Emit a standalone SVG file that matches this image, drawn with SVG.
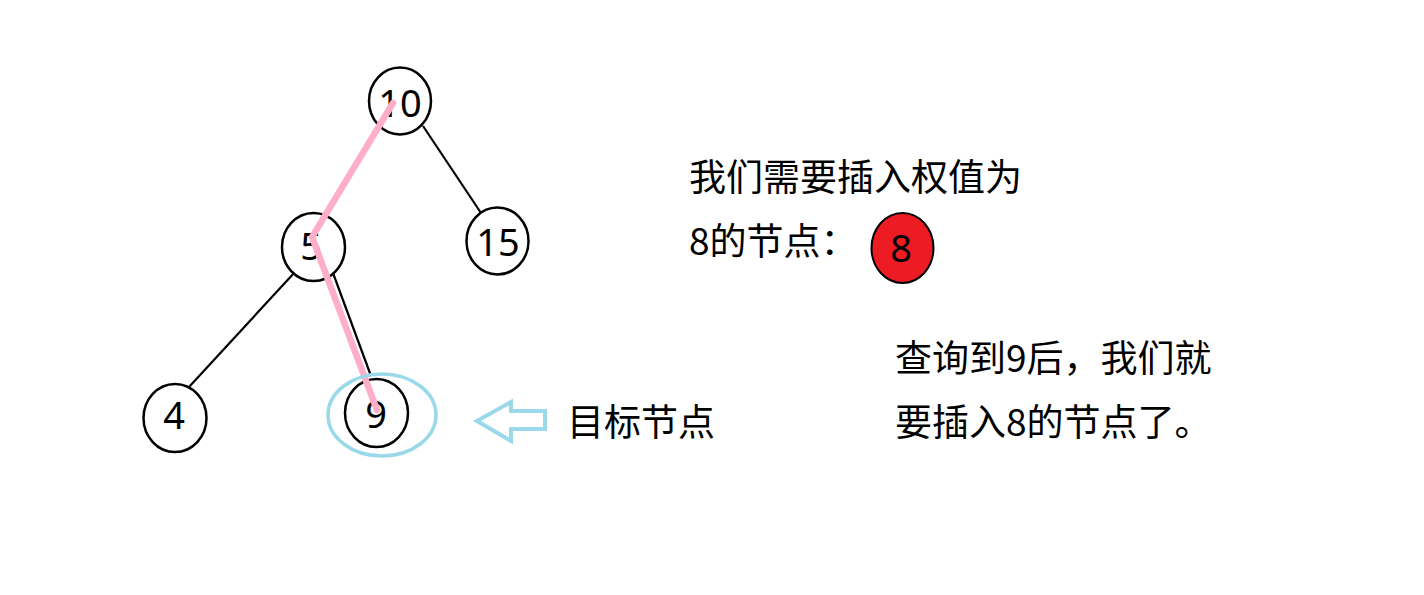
<svg xmlns="http://www.w3.org/2000/svg" width="1424" height="595" viewBox="0 0 1424 595">
<style>
.node{fill:#fff;stroke:#000;stroke-width:2.5}
.edge{stroke:#000;stroke-width:2.2;fill:none}
.num{font-family:"Noto Sans","Noto Sans CJK SC",sans-serif;font-size:38px;fill:#000;text-anchor:middle}
.txt{font-family:"Noto Sans CJK SC","Noto Sans",sans-serif;font-size:37px;fill:#000}
</style>
<rect width="1424" height="595" fill="#fff"/>
<g id="connectors">
<line class="edge" x1="423" y1="126" x2="481" y2="213"/>
<line class="edge" x1="295" y1="272" x2="189" y2="387"/>
<line class="edge" x1="333" y1="273" x2="371" y2="376"/>
</g>
<g id="node-10"><ellipse class="node" cx="400" cy="101" rx="31" ry="33.5"/><text class="num" x="400" y="117">10</text></g>
<g id="node-5"><ellipse class="node" cx="313.5" cy="247" rx="31.5" ry="34"/><text class="num" x="311" y="260">5</text></g>
<g id="node-15"><ellipse class="node" cx="497.5" cy="241" rx="31" ry="33.5"/><text class="num" x="498" y="256">15</text></g>
<g id="node-4"><ellipse class="node" cx="175" cy="418" rx="31.5" ry="34"/><text class="num" x="174" y="429">4</text></g>
<g id="node-9"><ellipse class="node" cx="376.5" cy="413" rx="31.5" ry="34"/><text class="num" x="376" y="428">9</text></g>
<g id="search-path"><polyline points="393,103 312,237 377,410" fill="none" stroke="#ffaec9" stroke-width="6.5" stroke-linecap="round" stroke-linejoin="miter"/></g>
<g id="highlight"><ellipse cx="382" cy="415" rx="54" ry="41" fill="none" stroke="#99d9ea" stroke-width="3.5"/></g>
<g id="arrow"><polygon points="477,421 511,402 511,411 545,411 545,429 511,429 511,441" fill="none" stroke="#99d9ea" stroke-width="4"/></g>
<g id="label-target"><text class="txt" x="567" y="436">目标节点</text></g>
<g id="desc-1"><text class="txt" x="689" y="191">我们需要插入权值为</text><text class="txt" x="689" y="255">8的节点：</text></g>
<g id="new-node-8"><ellipse cx="902.5" cy="248" rx="31" ry="35" fill="#ed1c24" stroke="#000" stroke-width="2"/><text class="num" x="901" y="262">8</text></g>
<g id="desc-2"><text class="txt" x="895" y="372">查询到9后，我们就</text><text class="txt" x="895" y="436">要插入8的节点了。</text></g>
</svg>
